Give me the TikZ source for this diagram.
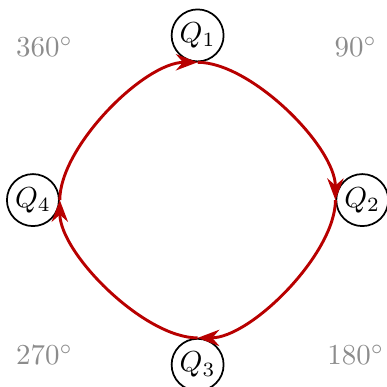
\documentclass[tikz,border=0pt]{standalone}
\usepackage{xcolor}
\usepackage{tikz}
\usetikzlibrary{arrows.meta}
\definecolor{loopred}{HTML}{B80000}
\definecolor{labelgray}{HTML}{8C8C8C}
\tikzset{
    qnode/.style={circle, draw=black, semithick, inner sep=1pt, minimum size=0.6cm},
    anglelbl/.style={text=labelgray},
    arrred/.style={-{Stealth}, line width=1pt, draw=loopred},
}
\begin{document}
\begin{tikzpicture}[y=1cm, x=1cm]

        \useasboundingbox (-2.40,-2.27) rectangle (2.30,2.43);

% =========================================================
% Quadranten
% =========================================================

        \node[qnode] (q1) at (0, 2)  {$Q_1$};
        \node[qnode] (q2) at (2, 0)  {$Q_2$};
        \node[qnode] (q3) at (0, -2) {$Q_3$};
        \node[qnode] (q4) at (-2, 0) {$Q_4$};

% Winkel in den Ecken
        \node[anglelbl] (a360) at (-1.86, 1.86)  {$360^\circ$};
        \node[anglelbl] (a90)  at (1.92, 1.86)   {$90^\circ$};
        \node[anglelbl] (a270) at (-1.86, -1.88) {$270^\circ$};
        \node[anglelbl] (a180) at (1.92, -1.88)  {$180^\circ$};

% Umlauf im Uhrzeigersinn
        \draw[arrred] (q1.south) to[out=0, in=90, looseness=0.7]    (q2.west);
        \draw[arrred] (q2.west)  to[out=-90, in=0, looseness=0.7]   (q3.north);
        \draw[arrred] (q3.north) to[out=180, in=-90, looseness=0.7] (q4.east);
        \draw[arrred] (q4.east)  to[out=90, in=180, looseness=0.7]  (q1.south);

\end{tikzpicture}
\end{document}
